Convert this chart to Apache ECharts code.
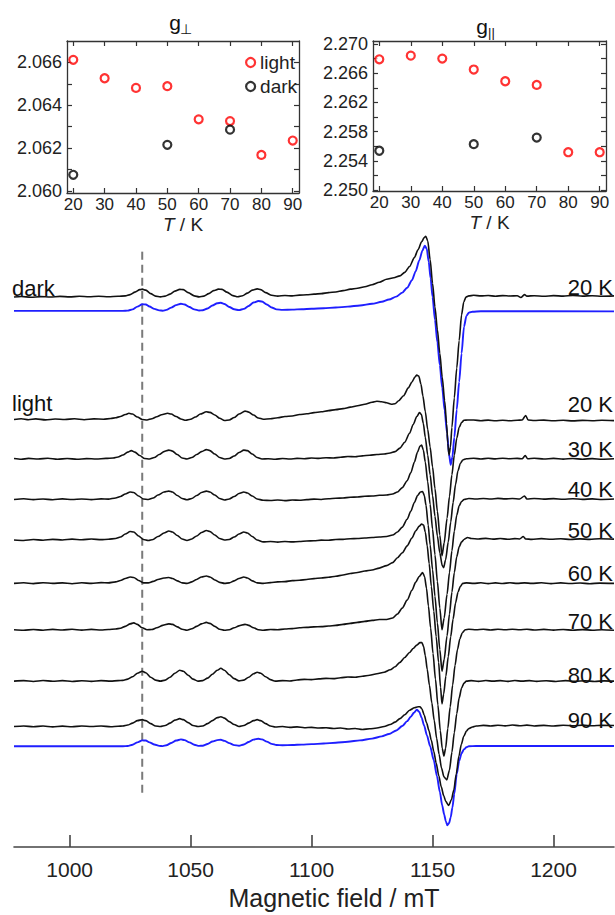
<!DOCTYPE html>
<html><head><meta charset="utf-8">
<script src="https://cdn.jsdelivr.net/npm/echarts@6/dist/echarts.min.js"></script>
<style>html,body{margin:0;padding:0;background:#fff}#c{width:615px;height:915px}</style>
</head><body><div id="c"></div>
<script>
// ---------- inset data ----------
const temps = [20, 30, 40, 50, 60, 70, 80, 90];
const darkTemps = [20, 50, 70];
const gPerpLight = [2.06612, 2.06526, 2.06481, 2.06489, 2.06334, 2.06326, 2.06168, 2.06235];
const gPerpDark = [2.06075, 2.06215, 2.06286];
const gParLight = [2.2679, 2.2684, 2.2680, 2.2665, 2.2649, 2.2644, 2.2552, 2.2552];
const gParDark = [2.2554, 2.2563, 2.2572];
const tTicks = [20, 30, 40, 50, 60, 70, 80, 90];
const gPerpTickMarks = [2.060, 2.061, 2.062, 2.063, 2.064, 2.065, 2.066];
const gPerpTickLabels = [2.060, 2.062, 2.064, 2.066];
const gParTickMarks = [2.250, 2.252, 2.254, 2.256, 2.258, 2.260, 2.262, 2.264, 2.266, 2.268, 2.270];
const gParTickLabels = [2.250, 2.254, 2.258, 2.262, 2.266, 2.270];

// ---------- main spectra: [field mT, signal relative to baseline] ----------
const fieldTicks = [1000, 1050, 1100, 1150, 1200];
const guideField = 1030;
const guideSpan = [55, 603];

const darkExp = [[977,0],[980,0.6],[984,-0.2],[988,0.5],[992,0.1],[996,0.7],[1000,0.2],[1004,0.8],[1008,0.3],[1012,0.9],[1016,0.4],[1020,0.8],[1023,1.2],[1025,2.5],[1027,5],[1029,7.5],[1030,8],[1031.5,7],[1033.5,3.5],[1035.5,1],[1037.5,0.2],[1039.5,1],[1041.5,3],[1043.5,6],[1045.5,7.8],[1047,7.5],[1049,4.5],[1051.5,1.2],[1053.5,0.2],[1055.5,1],[1057.5,3.5],[1059.5,6.5],[1061.5,8],[1063,7.8],[1065,5],[1067.5,1.5],[1069.5,0.3],[1071.5,1.3],[1073.5,4],[1075.5,7],[1077.5,8.3],[1079,7.5],[1081,4.5],[1083.5,1.8],[1086,1],[1089,1.6],[1092,1.2],[1095,2],[1098,2.3],[1101,3],[1104,3.5],[1107,4.5],[1110,5.2],[1113,6.5],[1116,8],[1119,9],[1122,10.5],[1125,12.5],[1128,15],[1131,18],[1134,19.5],[1136.5,21.5],[1138.5,25],[1140.5,31],[1142.5,40],[1144,48],[1145.5,56],[1146.5,60],[1147.2,61.5],[1148,57],[1149,38],[1150,14],[1151,-10],[1152,-33],[1153,-57],[1154,-81],[1155,-105],[1155.8,-128],[1156.3,-148],[1156.8,-160],[1157.4,-152],[1158,-132],[1159,-102],[1160,-72],[1161,-44],[1162,-18],[1162.9,-5],[1163.8,0],[1165,1.2],[1167,1.8],[1170,1.2],[1173,1.6],[1176,0.9],[1179,1.5],[1182,1.1],[1185,1.3],[1186.5,-0.5],[1188,2.5],[1189,1],[1192,1.4],[1196,0.8],[1200,1.5],[1204,1],[1208,1.6],[1212,1],[1216,1.4],[1220,0.9],[1225,1.2]];

const darkSim = [[977,0],[1022,0],[1024,0.3],[1026,1.5],[1028,4.3],[1030,6.8],[1031.5,6.5],[1033,4.5],[1035,2],[1037,0.5],[1038.5,0.2],[1040,1],[1042,3.3],[1044,5.8],[1046,7.2],[1047.5,6.5],[1049.5,4],[1051.5,1.5],[1053.5,0.4],[1055,0.6],[1057,2.5],[1059,5.5],[1061,7.8],[1062.5,8.2],[1064,7],[1066,4],[1068,1.6],[1070,0.8],[1072,2],[1074,5],[1076,8.5],[1078,10],[1079.5,9.5],[1081.5,6.5],[1083.5,3.5],[1085.5,1.5],[1088,1],[1092,1.3],[1096,1.7],[1100,2.1],[1105,2.7],[1110,3.4],[1115,4.3],[1120,5.5],[1125,7.2],[1129,9.2],[1132,11.5],[1135,14.5],[1137.5,18.5],[1139.5,23.5],[1141.5,31],[1143,40],[1144.5,51],[1145.8,61],[1146.8,66],[1147.6,63],[1148.4,50],[1149.2,33],[1150,14],[1151,-9],[1152,-32],[1153,-55],[1154,-78],[1155,-101],[1156,-124],[1156.8,-145],[1157.5,-156],[1158.2,-148],[1159,-128],[1160,-100],[1161,-72],[1162,-43],[1163,-16],[1164,-5],[1165,-1.8],[1166.5,-0.8],[1170,-0.4],[1225,-0.5]];

const light20 = [[977,0],[980,0.8],[983,-0.2],[986,0.6],[990,-0.4],[994,0.5],[998,0],[1002,0.7],[1006,-0.2],[1010,0.6],[1014,0.3],[1017,1],[1019,1.8],[1021,3],[1023,5],[1024.5,6.3],[1026,5.5],[1028,2.5],[1030,0],[1032,-0.5],[1034,0.8],[1036,2.8],[1038,4.8],[1040.5,6.3],[1042,5.5],[1044,3],[1046,0.5],[1048,-0.8],[1050,0.2],[1052,2.5],[1054,5.5],[1056.5,7.8],[1058,7.2],[1060,4.5],[1062,1.2],[1064,-1],[1066,-0.5],[1068,2],[1070,5.5],[1072.5,8.5],[1074,7.5],[1076,4.5],[1078,1.5],[1080,0.3],[1083,0.8],[1086,1.8],[1089,3],[1092,3.5],[1095,5],[1098,5.8],[1101,7],[1104,7.8],[1107,9],[1110,10],[1113,11],[1116,12.5],[1119,14],[1122,15.5],[1125,17.5],[1127,18.5],[1129,18],[1131,17],[1133,15.5],[1134.5,16],[1136,19],[1138,24],[1140,32],[1141.5,38],[1142.7,43],[1143.5,45],[1144.3,44],[1145.2,36],[1146,24],[1147,8],[1148,-10],[1149,-28],[1150,-48],[1151,-70],[1152,-93],[1153,-117],[1153.9,-138],[1154.8,-125],[1156,-100],[1157,-78],[1158,-56],[1159,-36],[1160,-19],[1161,-8],[1162,-3],[1163,-0.8],[1164.5,-0.5],[1167,-0.5],[1170,-1.2],[1173,-0.6],[1176,-1.3],[1179,-0.7],[1182,-1.2],[1185,-0.8],[1187,-0.5],[1188.5,4],[1189.5,-0.5],[1192,-1],[1196,-0.6],[1200,-1.3],[1204,-0.8],[1208,-1.4],[1212,-0.9],[1216,-1.2],[1220,-0.7],[1225,-1.1]];

const light30 = [[977,0.5],[980,-0.3],[983,0.6],[987,0],[991,0.8],[995,-0.2],[999,0.5],[1003,-0.3],[1007,0.4],[1011,0],[1015,0.6],[1018,1],[1020,2],[1022,4],[1024,7],[1025.5,8.5],[1027,7],[1029,3.5],[1031,0.5],[1033,0],[1035,1.5],[1037,4.5],[1039,7.5],[1041,9],[1042.5,8],[1044.5,4.5],[1046.5,1],[1048.5,0],[1050.5,1.5],[1052.5,4.5],[1054.5,7.5],[1056.5,9.5],[1058,8.5],[1060,5],[1062,1.5],[1064,0],[1066,0.5],[1068,3],[1070,6.5],[1072,9],[1073.5,8.5],[1075.5,5],[1077.5,1.5],[1079.5,0],[1082,0.2],[1085,-0.3],[1088,0.5],[1091,0],[1094,0.6],[1097,0.3],[1100,1],[1103,0.6],[1106,1.3],[1109,1],[1112,1.8],[1115,2.5],[1118,2.2],[1121,3.2],[1124,3.8],[1127,4.5],[1130,5],[1132.5,6],[1134.5,7.5],[1136.5,11],[1138.5,17],[1140.5,26],[1142,35],[1143.5,43],[1144.6,47],[1145.4,45],[1146.2,36],[1147,22],[1148,4],[1149,-16],[1150,-37],[1151,-58],[1152,-78],[1153,-95],[1154,-108],[1154.6,-110],[1155.4,-102],[1156.5,-84],[1157.5,-64],[1158.5,-44],[1159.5,-26],[1160.5,-12],[1161.5,-4.5],[1162.5,-1],[1164,0.3],[1167,0.8],[1170,0],[1173,0.7],[1176,0.1],[1179,0.8],[1182,0.3],[1185,0.6],[1187,0.2],[1188.3,3.5],[1189.3,0.2],[1192,0.7],[1196,0],[1200,0.6],[1204,-0.1],[1208,0.5],[1212,-0.2],[1216,0.4],[1220,-0.3],[1225,0.2]];

const light40 = [[977,0],[981,0.7],[985,-0.2],[989,0.5],[993,-0.3],[997,0.6],[1001,0],[1005,0.5],[1009,-0.2],[1013,0.6],[1016,0.3],[1019,1.5],[1021,3],[1023,5.5],[1025,7.5],[1026.5,7],[1028.5,3.5],[1030.5,0.5],[1032.5,0],[1034.5,1.5],[1036.5,4.5],[1039,7.5],[1041,8.5],[1042.5,7.5],[1044.5,4],[1046.5,1],[1048.5,-0.3],[1050.5,1],[1052.5,4],[1054.5,7],[1056.5,8.5],[1058,7.5],[1060,4.5],[1062,1],[1064,-0.5],[1066,0.5],[1068,3],[1070,6],[1072,7.5],[1073.5,6.5],[1075.5,3.5],[1077.5,0.5],[1080,-0.8],[1083,-1],[1086,-0.5],[1089,-1.2],[1092,-0.6],[1095,-0.8],[1098,-0.2],[1101,0.3],[1104,0],[1107,0.8],[1110,1.2],[1113,1.5],[1116,2.2],[1119,2.5],[1122,3.2],[1125,3.5],[1128,4.2],[1131,4.5],[1133.5,5.5],[1135.5,7.5],[1137.5,12],[1139.5,19],[1141,27],[1142.5,38],[1143.8,48],[1144.8,54],[1145.5,55],[1146.2,50],[1147,38],[1148,18],[1149,-5],[1150,-30],[1151,-56],[1152,-83],[1153,-110],[1153.9,-132],[1154.8,-120],[1156,-96],[1157,-74],[1158,-52],[1159,-32],[1160,-16],[1161,-6.5],[1162,-2],[1163,0],[1165,1],[1168,0.4],[1171,1],[1174,0.5],[1177,1.1],[1180,0.6],[1183,1],[1186,0.5],[1188,3.5],[1189,0.5],[1192,1],[1196,0.3],[1200,0.9],[1204,0.2],[1208,0.8],[1212,0.1],[1216,0.6],[1220,0],[1225,0.4]];

const light50 = [[977,0],[981,-0.5],[985,0.4],[989,-0.3],[993,0.6],[997,0],[1001,0.8],[1005,0.2],[1009,0.9],[1013,0.3],[1016,0.7],[1019,1.5],[1021,3],[1023,6],[1025,8.5],[1026.5,8],[1028.5,4],[1030.5,0.5],[1032.5,-0.5],[1034.5,0.5],[1036.5,3.5],[1039,7],[1041,9],[1042.5,8],[1044.5,4.5],[1046.5,1],[1048.5,-0.5],[1050.5,1],[1052.5,4],[1054.5,7.5],[1056.5,9.5],[1058,8.5],[1060,5],[1062,1.5],[1064,0],[1066,0.5],[1068,3],[1070,6],[1072,8],[1073.5,7],[1075.5,3.5],[1077.5,0],[1080,-2],[1083,-1.5],[1086,-2.2],[1089,-1.5],[1092,-2],[1095,-1.6],[1098,-1],[1101,-0.8],[1104,-0.2],[1107,-0.3],[1110,0.5],[1113,0.6],[1116,1.2],[1119,1.5],[1122,2],[1125,2.5],[1128,3],[1131,3.5],[1133.5,5],[1135.5,8],[1137.5,13],[1139.5,21],[1141,29],[1142.5,38],[1143.8,45],[1145,48.5],[1145.9,49],[1146.6,45],[1147.3,35],[1148.2,15],[1149,-5],[1150,-30],[1151,-57],[1152,-84],[1153,-111],[1153.9,-133],[1154.8,-121],[1156,-97],[1157,-75],[1158,-53],[1159,-33],[1160,-17],[1161,-7],[1162,-2],[1163,0.5],[1164.5,2.5],[1166,1.5],[1169,1],[1172,1.6],[1175,0.8],[1178,1.4],[1181,0.7],[1184,1.3],[1186,1],[1187.5,3.5],[1188.5,1],[1191,0.6],[1195,1.3],[1199,0.7],[1203,1.2],[1207,0.5],[1211,1.1],[1215,0.6],[1219,1.2],[1225,0.8]];

const light60 = [[977,0],[981,0.6],[985,-0.2],[989,0.7],[993,0],[997,0.5],[1001,-0.3],[1005,0.6],[1009,0],[1013,0.8],[1016,0.5],[1019,1.5],[1021,3],[1023,5],[1025,6.5],[1026.5,6],[1028.5,3],[1030.5,0.5],[1032.5,0.5],[1034.5,2],[1036.5,4],[1039,5.5],[1041,6],[1042.5,5],[1044.5,2.5],[1046.5,0.5],[1048.5,0],[1050.5,1.5],[1052.5,4],[1054.5,6.5],[1056.5,7.5],[1058,6.5],[1060,3.5],[1062,1],[1064,0],[1066,0.5],[1068,2.5],[1070,5],[1072,6.5],[1073.5,5.5],[1075.5,2.5],[1077.5,0.5],[1080,0],[1083,0.8],[1086,1.5],[1089,1.8],[1092,2.8],[1095,3.2],[1098,4],[1101,4.8],[1104,5.5],[1107,6.2],[1110,7.2],[1113,8.5],[1116,10],[1119,11],[1122,12.5],[1125,13.5],[1128,15.5],[1131,18],[1133.5,21],[1135.5,26],[1137.5,31],[1139.5,38],[1141.5,46],[1143,53],[1144.5,58],[1145.5,60],[1146.3,59],[1147,52],[1147.8,38],[1148.6,20],[1149.5,-3],[1150.5,-28],[1151.5,-54],[1152.5,-80],[1153.3,-105],[1153.9,-122],[1154.6,-112],[1155.5,-94],[1156.5,-74],[1157.5,-54],[1158.5,-36],[1159.5,-20],[1160.5,-9],[1161.5,-3],[1162.5,0],[1164,0.5],[1167,0],[1170,0.6],[1173,-0.2],[1176,0.5],[1179,-0.1],[1182,0.6],[1185,0],[1188,0.5],[1191,0],[1195,0.6],[1199,-0.2],[1203,0.5],[1207,-0.1],[1211,0.4],[1215,-0.3],[1219,0.3],[1225,0]];

const light70 = [[977,0],[981,-0.5],[985,0.3],[989,-0.4],[993,0.4],[997,-0.2],[1001,0.5],[1005,-0.3],[1009,0.4],[1013,-0.2],[1016,0.3],[1019,0.8],[1021,1.5],[1023,3.5],[1025,6],[1026.5,7],[1028,5.5],[1030,2],[1032,0],[1034,0.3],[1036,2],[1038.5,4.5],[1041,6],[1042.5,5.5],[1044.5,3],[1046.5,0.5],[1048.5,-0.5],[1050.5,1],[1052.5,3.5],[1054.5,6],[1056.5,7.5],[1058,6.5],[1060,3.5],[1062,0.5],[1064,-0.5],[1066,0],[1068,2],[1070,4],[1072.5,5.5],[1074,4.5],[1076,2],[1078,0],[1080,-0.5],[1083,0.3],[1086,0],[1089,0.8],[1092,1.2],[1095,2],[1098,2.5],[1101,3],[1104,3.2],[1107,3.8],[1110,4.5],[1113,5.5],[1116,6.5],[1119,7.5],[1122,8.5],[1125,9.5],[1128,10.5],[1131,10.5],[1133.5,12],[1135.5,16],[1137.5,22],[1139.5,30],[1141.5,40],[1143,48],[1144.5,54],[1145.9,58],[1146.7,54],[1147.5,42],[1148.3,24],[1149.2,2],[1150.2,-24],[1151.2,-50],[1152.2,-76],[1153.2,-102],[1154,-120],[1154.7,-128],[1155.4,-120],[1156.3,-100],[1157.3,-78],[1158.3,-56],[1159.3,-36],[1160.3,-20],[1161.3,-9],[1162.3,-3],[1163.5,0],[1165,0.5],[1168,0],[1171,0.6],[1174,-0.2],[1177,0.5],[1180,0],[1183,0.6],[1186,0],[1189,0.5],[1192,-0.2],[1196,0.4],[1200,-0.3],[1204,0.3],[1208,-0.4],[1212,0.2],[1216,-0.4],[1220,0.1],[1225,-0.5]];

const light80 = [[977,0],[981,0.5],[985,-0.3],[989,0.6],[993,-0.1],[997,0.5],[1001,-0.3],[1005,0.4],[1009,-0.2],[1013,0.5],[1017,0],[1020,0.5],[1022,0.8],[1024,2],[1026,4.5],[1028,8],[1030,10],[1031.5,8.5],[1033.5,4],[1035.5,1],[1037.5,0],[1039.5,1],[1041.5,4],[1043.5,8],[1045.5,11],[1047,10],[1049,6],[1051,2],[1053,0],[1055,0.5],[1057,3],[1059,7],[1061,11],[1062.5,13],[1064,11],[1066,6.5],[1068,2.5],[1070,0.3],[1072,1],[1074,4],[1076,7.5],[1077.5,9],[1079,8],[1081,4.5],[1083,1.5],[1085,0],[1088,0.5],[1091,0.2],[1094,1.2],[1097,1.8],[1100,1.5],[1103,2.3],[1106,2.8],[1109,2.5],[1112,3.5],[1115,4.2],[1118,4],[1121,5],[1124,6],[1127,7.5],[1130,9],[1132.5,11.5],[1134.5,14.5],[1136.5,19],[1138.5,24],[1140.5,29],[1142,33],[1143.5,36.5],[1144.8,39],[1145.6,39],[1146.3,35],[1147,26],[1147.8,12],[1148.7,-4],[1149.7,-22],[1150.7,-40],[1151.7,-58],[1152.7,-74],[1153.7,-88],[1154.7,-97],[1155.9,-100],[1157,-90],[1158,-72],[1159,-52],[1160,-33],[1161,-17],[1162,-7],[1163,-2],[1164,0],[1166,0.5],[1169,-0.2],[1172,0.6],[1175,0],[1178,0.5],[1181,-0.2],[1184,0.6],[1187,0],[1190,0.5],[1193,-0.2],[1197,0.4],[1201,-0.3],[1205,0.5],[1209,-0.2],[1213,0.4],[1217,-0.3],[1221,0.3],[1225,0]];

const light90 = [[977,0],[981,0.6],[985,-0.2],[989,0.5],[993,-0.3],[997,0.4],[1001,-0.2],[1005,0.6],[1009,0],[1013,0.5],[1017,-0.2],[1020,0.3],[1022,0.5],[1024,1.5],[1026,3.5],[1028,6],[1030,7],[1031.5,6],[1033.5,3],[1035.5,0.5],[1037.5,0],[1039.5,1],[1041.5,3.5],[1043.5,6.5],[1045.5,8],[1047,7],[1049,4],[1051,1],[1053,0],[1055,0.5],[1057,3],[1059,6],[1061,9],[1062.5,10],[1064,8.5],[1066,5],[1068,2],[1070,0],[1072,1],[1074,3.5],[1076,6],[1077.5,7],[1079,6],[1081,3],[1083,0.5],[1085,-0.5],[1088,0],[1091,-0.8],[1094,-0.3],[1097,-1.2],[1100,-0.8],[1103,-1.5],[1106,-1.2],[1109,-2],[1112,-1.5],[1115,-2.5],[1118,-2],[1121,-3],[1124,-2.3],[1127,-1.5],[1130,0],[1132.5,2],[1134.5,4.5],[1136.5,8],[1138.5,12],[1140.5,16.5],[1142.5,19],[1144,20],[1144.8,20],[1145.6,18],[1146.5,12],[1147.5,4],[1148.5,-4],[1149.5,-14],[1150.5,-25],[1151.5,-37],[1152.6,-50],[1153.6,-61],[1154.6,-70],[1155.5,-76],[1156.7,-80],[1157.8,-74],[1158.8,-64],[1159.8,-48],[1160.9,-30],[1161.9,-18],[1162.9,-10],[1164,-4.5],[1165,-2],[1166.5,-0.5],[1168,0.5],[1171,1.2],[1174,0.6],[1177,1.3],[1180,0.7],[1183,1.5],[1186,0.8],[1189,1.4],[1192,0.6],[1196,1.2],[1200,0.5],[1204,1.3],[1208,0.7],[1212,1.4],[1216,0.8],[1220,1.2],[1225,1]];

const lightSim = [[977,0],[1022,0],[1024,0.3],[1026,1.5],[1028,4],[1030,6],[1031.5,5.8],[1033,4],[1035,1.8],[1037,0.4],[1038.5,0.2],[1040,1],[1042,3.3],[1044,5.8],[1046,7],[1047.5,6.3],[1049.5,4],[1051.5,1.5],[1053.5,0.4],[1055,0.6],[1057,2.4],[1059,4.8],[1061,6.3],[1062.5,6.6],[1064,5.5],[1066,3.2],[1068,1.2],[1070,0.6],[1072,1.8],[1074,4.3],[1076,6.8],[1078,7.6],[1079.5,7],[1081.5,4.7],[1083.5,2.5],[1085.5,1.3],[1088,1],[1092,1.3],[1096,1.7],[1100,2.2],[1105,2.8],[1110,3.6],[1115,4.6],[1120,6],[1125,7.8],[1129,10],[1132,12.5],[1135,16],[1137.5,20.5],[1139.5,25.5],[1141,30],[1142.3,34],[1143.5,37],[1144.5,35],[1145.5,29],[1146.5,21],[1147.7,11],[1149,0],[1150.5,-14],[1151.8,-30],[1153,-46],[1154,-60],[1154.8,-69],[1155.5,-76],[1156.1,-80],[1156.8,-78],[1157.5,-72],[1158.2,-62],[1159,-48],[1160,-28],[1161,-15],[1162,-7],[1163,-3],[1164,-1],[1165,0],[1168,0.3],[1225,0.3]];

// stacking offsets (same arbitrary intensity units)
const traceNames = ['dark exp', 'dark sim', '20 K', '30 K', '40 K', '50 K', '60 K', '70 K', '80 K', '90 K', 'light sim'];
const traceData = [darkExp, darkSim, light20, light30, light40, light50, light60, light70, light80, light90, lightSim];
const traceOffsets = [557, 543, 433, 393, 352, 311, 267, 220, 168, 122, 102];
const traceIsSim = [false, true, false, false, false, false, false, false, false, false, true];

const FONT = '"Liberation Sans", Arial, Helvetica, sans-serif';
const AX = '#333';
const TXT = '#222';
const RED = '#ff0000';
const BLUE = '#1f1fff';

const chart = echarts.init(document.getElementById('c'), null, {renderer: 'svg', width: 615, height: 915});

const series = [];
series.push({
  type: 'line', name: 'guide', xAxisIndex: 0, yAxisIndex: 0,
  data: [[guideField, guideSpan[1]], [guideField, guideSpan[0]]],
  symbol: 'none', silent: true, z: 1,
  lineStyle: {color: '#7a7a7a', width: 2, type: [8, 5]}
});
traceData.forEach((pts, i) => {
  series.push({
    type: 'line', name: traceNames[i], xAxisIndex: 0, yAxisIndex: 0,
    data: pts.map(p => [p[0], traceOffsets[i] + p[1]]),
    symbol: 'none', smooth: 0.25, smoothMonotone: 'x', silent: true, z: traceIsSim[i] ? 3 : 4,
    lineStyle: {color: traceIsSim[i] ? BLUE : '#111', width: traceIsSim[i] ? 1.9 : 1.6}
  });
});

function ring(color) { return {color: '#fff', borderColor: color, borderWidth: 2.2}; }
series.push(
  {type: 'scatter', name: 'light', xAxisIndex: 1, yAxisIndex: 1, data: temps.map((t, i) => [t, gPerpLight[i]]), symbol: 'circle', symbolSize: 8, itemStyle: ring(RED), z: 5},
  {type: 'scatter', name: 'dark', xAxisIndex: 1, yAxisIndex: 1, data: darkTemps.map((t, i) => [t, gPerpDark[i]]), symbol: 'circle', symbolSize: 8, itemStyle: ring('#000'), z: 5},
  {type: 'scatter', name: 'light', xAxisIndex: 3, yAxisIndex: 3, data: temps.map((t, i) => [t, gParLight[i]]), symbol: 'circle', symbolSize: 8, itemStyle: ring(RED), z: 5},
  {type: 'scatter', name: 'dark', xAxisIndex: 3, yAxisIndex: 3, data: darkTemps.map((t, i) => [t, gParDark[i]]), symbol: 'circle', symbolSize: 8, itemStyle: ring('#000'), z: 5}
);

function boxX(grid, pos, labels) {
  return {
    gridIndex: grid, type: 'value', min: 18, max: 92, position: pos,
    axisLine: {show: true, onZero: false, lineStyle: {color: AX, width: 1.3}},
    axisTick: {show: true, inside: true, length: 5, customValues: tTicks, lineStyle: {color: AX, width: 1.2}},
    axisLabel: labels ? {show: true, customValues: tTicks, fontSize: 17, fontFamily: FONT, color: TXT, margin: 3, formatter: v => String(v)} : {show: false},
    splitLine: {show: false},
    name: labels ? '{i|T}{n| / K}' : '', nameLocation: 'middle', nameGap: 22,
    nameTextStyle: {rich: {i: {fontStyle: 'italic', fontSize: 19, fontFamily: FONT, color: TXT}, n: {fontSize: 19, fontFamily: FONT, color: TXT}}}
  };
}
function boxY(grid, pos, min, max, marks, labels) {
  return {
    gridIndex: grid, type: 'value', min: min, max: max, position: pos,
    axisLine: {show: true, onZero: false, lineStyle: {color: AX, width: 1.3}},
    axisTick: {show: true, inside: true, length: 5, customValues: marks, lineStyle: {color: AX, width: 1.2}},
    axisLabel: labels ? {show: true, customValues: labels, fontSize: 18, fontFamily: FONT, color: TXT, margin: 5, formatter: v => v.toFixed(3)} : {show: false},
    splitLine: {show: false}
  };
}

const option = {
  animation: false,
  backgroundColor: '#fff',
  grid: [
    {left: 14, right: 1, top: 225, bottom: 60},
    {left: 67, top: 41, width: 232, height: 152},
    {left: 373, top: 41, width: 233, height: 150}
  ],
  xAxis: [
    {
      gridIndex: 0, type: 'value', min: 977, max: 1225,
      axisLine: {show: true, onZero: false, lineStyle: {color: '#444', width: 1.6}},
      axisTick: {show: true, inside: true, length: 12, customValues: fieldTicks, lineStyle: {color: '#444', width: 1.6}},
      axisLabel: {customValues: fieldTicks, fontSize: 21, fontFamily: FONT, color: TXT, margin: 12, formatter: v => String(v)},
      splitLine: {show: false},
      name: 'Magnetic field / mT', nameLocation: 'middle', nameGap: 38,
      nameTextStyle: {fontSize: 25, fontFamily: FONT, color: TXT, padding: [0, 0, 0, 40]}
    },
    boxX(1, 'bottom', true), boxX(1, 'top', false),
    boxX(2, 'bottom', true), boxX(2, 'top', false)
  ],
  yAxis: [
    {gridIndex: 0, type: 'value', min: 0, max: 630, show: false},
    boxY(1, 'left', 2.0599, 2.0670, gPerpTickMarks, gPerpTickLabels),
    boxY(1, 'right', 2.0599, 2.0670, gPerpTickMarks, null),
    boxY(2, 'left', 2.2499, 2.2704, gParTickMarks, gParTickLabels),
    boxY(2, 'right', 2.2499, 2.2704, gParTickMarks, null)
  ],
  legend: {
    orient: 'vertical', left: 240, top: 48, itemWidth: 9, itemHeight: 9, itemGap: 5,
    selectedMode: false, icon: 'circle',
    textStyle: {fontSize: 19, fontFamily: FONT, color: TXT},
    data: [
      {name: 'light', itemStyle: ring(RED)},
      {name: 'dark', itemStyle: ring('#000')}
    ]
  },
  graphic: [],
  series: series
};

// text labels
const labels = [
  {t: 'dark', x: 12, y: 288, a: 'left'},
  {t: 'light', x: 12, y: 403, a: 'left'},
  {t: '20 K', x: 613, y: 287, a: 'right'},
  {t: '20 K', x: 613, y: 404, a: 'right'},
  {t: '30 K', x: 613, y: 449, a: 'right'},
  {t: '40 K', x: 613, y: 489, a: 'right'},
  {t: '50 K', x: 613, y: 530, a: 'right'},
  {t: '60 K', x: 613, y: 573, a: 'right'},
  {t: '70 K', x: 613, y: 621, a: 'right'},
  {t: '80 K', x: 613, y: 675, a: 'right'},
  {t: '90 K', x: 613, y: 720, a: 'right'}
];
labels.forEach(l => option.graphic.push({
  type: 'text', x: l.x, y: l.y, silent: true,
  style: {text: l.t, fill: '#111', font: '22px ' + FONT, textAlign: l.a, align: l.a, textVerticalAlign: 'middle', verticalAlign: 'middle'}
}));
// inset titles g with subscripts
option.graphic.push(
  {type: 'text', x: 175, y: 22, silent: true, style: {text: 'g', fill: '#111', font: '21px ' + FONT, textAlign: 'center', align: 'center', textVerticalAlign: 'middle', verticalAlign: 'middle'}},
  {type: 'text', x: 180, y: 29, silent: true, style: {text: '⊥', fill: '#111', font: '14px ' + FONT, textAlign: 'left', align: 'left', textVerticalAlign: 'middle', verticalAlign: 'middle'}},
  {type: 'text', x: 482, y: 26, silent: true, style: {text: 'g', fill: '#111', font: '21px ' + FONT, textAlign: 'center', align: 'center', textVerticalAlign: 'middle', verticalAlign: 'middle'}},
  {type: 'text', x: 488, y: 32, silent: true, style: {text: '||', fill: '#111', font: '13px ' + FONT, textAlign: 'left', align: 'left', textVerticalAlign: 'middle', verticalAlign: 'middle'}}
);

chart.setOption(option);
</script></body></html>
